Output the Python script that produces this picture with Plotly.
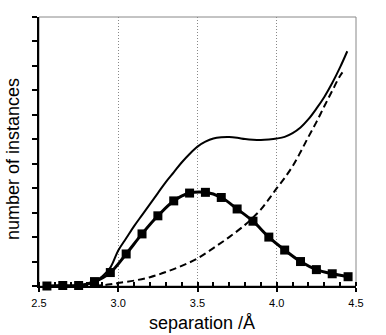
import plotly.graph_objects as go

# Data
sq_x = [2.55, 2.65, 2.75, 2.85, 2.95, 3.05, 3.15, 3.25, 3.35, 3.45,
        3.55, 3.65, 3.75, 3.85, 3.95, 4.05, 4.15, 4.25, 4.35, 4.45]
sq_y = [0.0, 0.02, 0.02, 0.18, 0.55, 1.31, 2.13, 2.87, 3.48, 3.80,
        3.83, 3.62, 3.15, 2.65, 2.00, 1.47, 1.00, 0.67, 0.50, 0.38]

solid_x = [2.55, 2.65, 2.75, 2.8, 2.85, 2.9, 2.95, 3.0, 3.05, 3.1, 3.15, 3.2,
           3.25, 3.3, 3.35, 3.4, 3.45, 3.5, 3.55, 3.6, 3.65, 3.7, 3.75, 3.8,
           3.85, 3.9, 3.95, 4.0, 4.05, 4.1, 4.15, 4.2, 4.25, 4.3, 4.35, 4.4, 4.445]
solid_y = [0.0, 0.0, 0.02, 0.06, 0.18, 0.40, 0.75, 1.45, 1.95, 2.45, 2.90, 3.35,
           3.80, 4.25, 4.65, 5.05, 5.40, 5.70, 5.90, 6.03, 6.08, 6.09, 6.06, 6.01,
           5.98, 5.97, 5.99, 6.03, 6.10, 6.25, 6.48, 6.82, 7.25, 7.73, 8.30, 8.95, 9.60]

dash_x = [2.85, 2.9, 2.95, 3.0, 3.1, 3.2, 3.3, 3.4, 3.5, 3.6, 3.7, 3.8, 3.85,
          3.9, 3.95, 4.0, 4.05, 4.1, 4.15, 4.2, 4.25, 4.3, 4.35, 4.4, 4.43]
dash_y = [0.0, 0.03, 0.07, 0.12, 0.22, 0.36, 0.57, 0.82, 1.13, 1.55, 2.00, 2.50, 2.80,
          3.13, 3.55, 4.00, 4.42, 4.90, 5.48, 6.10, 6.70, 7.35, 7.98, 8.60, 8.85]

x_ticks = [2.5, 3.0, 3.5, 4.0, 4.5]
x_tick_labels = ["2.5", "3.0", "3.5", "4.0", "4.5"]
x_title = "separation /Å"
y_title = "number of instances"

font = "Liberation Sans, Arial, Helvetica, sans-serif"

fig = go.Figure()
fig.add_trace(go.Scatter(x=solid_x, y=solid_y, mode="lines", line=dict(color="black", width=2, shape="spline"),
                         showlegend=False, hoverinfo="skip"))
fig.add_trace(go.Scatter(x=dash_x, y=dash_y, mode="lines",
                         line=dict(color="black", width=2, shape="spline", dash="7px,4px"),
                         showlegend=False, hoverinfo="skip"))
fig.add_trace(go.Scatter(x=sq_x, y=sq_y, mode="lines+markers",
                         line=dict(color="black", width=3, shape="spline"),
                         marker=dict(symbol="square", size=9, color="black"),
                         cliponaxis=False, showlegend=False))
# invisible trace for the overlaid axis carrying inside major ticks
fig.add_trace(go.Scatter(x=[2.5, 4.5], y=[0, 0], xaxis="x2", mode="markers",
                         marker=dict(opacity=0), showlegend=False, hoverinfo="skip"))

fig.update_layout(
    width=386, height=335,
    margin=dict(l=39, r=30, t=17, b=49, autoexpand=False),
    plot_bgcolor="white", paper_bgcolor="white",
    font=dict(family=font, color="black"),
    xaxis=dict(range=[2.5, 4.5], tickmode="array", tickvals=x_ticks, ticktext=x_tick_labels,
               ticks="outside", ticklen=4, tickwidth=1.5, tickcolor="black",
               minor=dict(dtick=0.1, ticks="inside", ticklen=4, tickwidth=1.5, tickcolor="black", showgrid=False),
               showline=True, linecolor="black", linewidth=2,
               showgrid=True, gridcolor="#888888", gridwidth=1, griddash="1px,2px",
               zeroline=False, tickfont=dict(size=11, family=font), ticklabelstandoff=2,
               automargin=False),
    xaxis2=dict(range=[2.5, 4.5], overlaying="x", tickmode="array", tickvals=x_ticks,
                ticks="inside", ticklen=4, tickwidth=1.5, tickcolor="black", automargin=False,
                showticklabels=False, showline=False, showgrid=False, zeroline=False, side="bottom"),
    yaxis=dict(range=[0, 11], dtick=1, ticks="outside", ticklen=5, tickwidth=1.5, tickcolor="black",
               showticklabels=False, showline=True, linecolor="black", linewidth=2,
               showgrid=False, zeroline=False, automargin=False),
    shapes=[dict(type="rect", xref="paper", yref="paper", x0=0, x1=1, y0=0, y1=1,
                 line=dict(color="#888888", width=1), layer="below")],
    annotations=[
        dict(text=x_title, xref="paper", yref="paper", x=(202 - 39) / 317, y=-(323 - 286) / 269,
             xanchor="center", yanchor="middle", showarrow=False, font=dict(size=18, family=font)),
        dict(text=y_title, xref="paper", yref="paper", x=-(39 - 13) / 317, y=(286 - 159) / 269,
             xanchor="center", yanchor="middle", textangle=-90, showarrow=False,
             font=dict(size=18, family=font)),
    ],
)

fig.write_html("out.html", config={"displayModeBar": False},
               post_script="document.body.style.margin='0px';document.body.style.padding='0px';")
